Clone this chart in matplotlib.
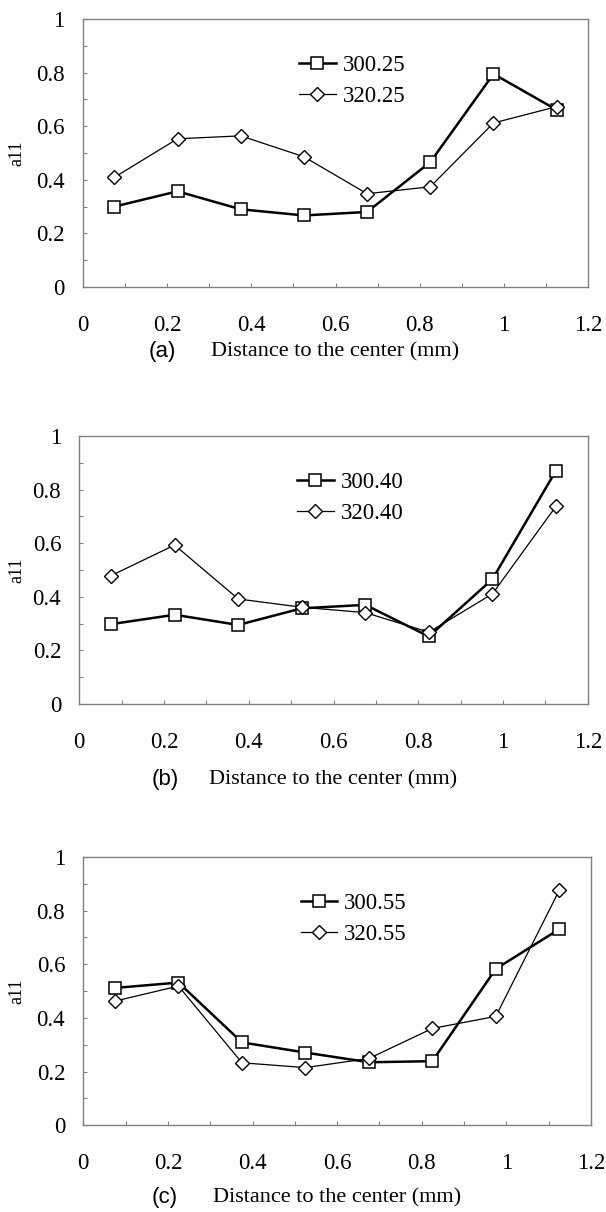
import matplotlib
matplotlib.use("Agg")
import matplotlib.pyplot as plt
from matplotlib.ticker import MultipleLocator

# ---- data ----
x = [0.075, 0.225, 0.375, 0.525, 0.675, 0.825, 0.975, 1.125]

a_300_25 = [0.300, 0.357, 0.290, 0.267, 0.280, 0.466, 0.795, 0.661]
a_320_25 = [0.409, 0.553, 0.564, 0.486, 0.348, 0.374, 0.612, 0.673]

b_300_40 = [0.298, 0.333, 0.295, 0.357, 0.370, 0.252, 0.466, 0.871]
b_320_40 = [0.479, 0.593, 0.392, 0.361, 0.341, 0.268, 0.411, 0.738]

c_300_55 = [0.512, 0.532, 0.309, 0.271, 0.235, 0.239, 0.583, 0.731]
c_320_55 = [0.463, 0.519, 0.233, 0.215, 0.249, 0.361, 0.406, 0.876]

panel_tags = ["(a)", "(b)", "(c)"]
series_labels = [("300.25", "320.25"), ("300.40", "320.40"), ("300.55", "320.55")]
series = [(a_300_25, a_320_25), (b_300_40, b_320_40), (c_300_55, c_320_55)]
xlabel = "Distance to the center (mm)"
ylabel = "a11"

W, H = 606, 1212
fig = plt.figure(figsize=(W / 100, H / 100), dpi=100)

serif = ["Liberation Serif", "DejaVu Serif"]
sans = ["Liberation Sans", "DejaVu Sans"]

# axes boxes in pixels: left, top, right, bottom
boxes = [(82.7, 19, 588.3, 287),
         (79.3, 436, 587.8, 704),
         (83.3, 857, 591.0, 1125.3)]
xlabel_y = [352, 780, 1198]
tag_x = [162, 165, 165]

frame_col = "#808080"

for i, (l, t, r, b) in enumerate(boxes):
    ax = fig.add_axes([l / W, 1 - b / H, (r - l) / W, (b - t) / H])
    s1, s2 = series[i]
    lab1, lab2 = series_labels[i]
    ax.plot(x, s1, color="black", lw=1.8, marker="s", ms=9,
            mfc="white", mec="black", mew=1.1, label=lab1, zorder=3)
    ax.plot(x, s2, color="black", lw=0.9, marker="D", ms=7.5,
            mfc="white", mec="black", mew=1.0, label=lab2, zorder=4)
    ax.set_xlim(0, 1.2)
    ax.set_ylim(0, 1)
    ax.xaxis.set_major_locator(MultipleLocator(0.2))
    ax.xaxis.set_minor_locator(MultipleLocator(0.1))
    ax.yaxis.set_major_locator(MultipleLocator(0.2))
    ax.yaxis.set_minor_locator(MultipleLocator(0.1))
    ax.xaxis.set_major_formatter(plt.FuncFormatter(lambda v, p: f"{v:g}"))
    ax.yaxis.set_major_formatter(plt.FuncFormatter(lambda v, p: f"{v:g}"))
    ax.tick_params(axis="both", which="both", direction="in", color=frame_col,
                   length=3, width=0.8)
    ax.tick_params(axis="x", which="major", pad=20)
    ax.tick_params(axis="y", which="major", pad=13)
    for lab in ax.get_xticklabels() + ax.get_yticklabels():
        lab.set_fontfamily(serif)
        lab.set_fontsize(16.5)
    for sp in ax.spines.values():
        sp.set_color(frame_col)
        sp.set_linewidth(1.0)

    ax.legend(loc="upper left", bbox_to_anchor=(0.428, 0.866),
              frameon=False, prop={"family": serif, "size": 16.5},
              handlelength=1.6, handletextpad=0.3, labelspacing=0.42,
              borderpad=0, borderaxespad=0)

    # y label
    fig.text(17 / W, 1 - ((t + b) / 2) / H, ylabel, rotation=90,
             ha="center", va="center", family=serif, fontsize=13)
    # x label
    fig.text(((l + r) / 2) / W, 1 - xlabel_y[i] / H, xlabel,
             ha="center", va="center", family=serif, fontsize=16)
    fig.text(tag_x[i] / W, 1 - xlabel_y[i] / H, panel_tags[i],
             ha="center", va="center", family=sans, fontsize=16)

fig.savefig("out.png", dpi=100)
